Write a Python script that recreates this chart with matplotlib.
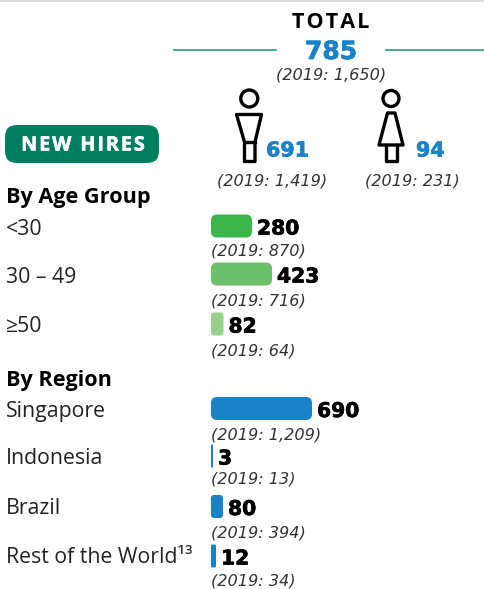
import matplotlib
matplotlib.use("Agg")
import matplotlib.pyplot as plt
import matplotlib.patheffects as pe
from matplotlib.patches import Circle, FancyBboxPatch, Polygon

plt.rcParams['font.family'] = ['Open Sans', 'DejaVu Sans']

# Datos
total = "785"
total_prev = "(2019: 1,650)"
male = "691"
male_prev = "(2019: 1,419)"
female = "94"
female_prev = "(2019: 231)"

age_labels = ["<30", "30 – 49", "≥50"]
age_values = [280, 423, 82]
age_prev = ["(2019: 870)", "(2019: 716)", "(2019: 64)"]
age_len = [41, 61, 12.5]  # largo dibujado en la imagen

region_labels = ["Singapore", "Indonesia", "Brazil", "Rest of the World¹³"]
region_values = [690, 3, 80, 12]
region_prev = ["(2019: 1,209)", "(2019: 13)", "(2019: 394)", "(2019: 34)"]
region_len = [101, 2, 12, 5]

# Posiciones en y: etiqueta, barra, texto 2019
age_y = [(228, 226, 250), (276, 274, 299), (325, 324, 349)]
region_y = [(410, 408.5, 433), (457, 456, 478), (507, 506.5, 532), (556, 556, 579)]

# Colores
GREEN = "#007f5f"
LINE = "#3aa586"
BLUE = "#1a82c6"
AGE_COLORS = ["#3cb54a", "#6cc06c", "#97d08c"]
TEXT = "#222222"
PREV = "#333333"

fig = plt.figure(figsize=(4.84, 5.89), dpi=100)
ax = fig.add_axes([0, 0, 1, 1])
ax.set_xlim(0, 484)
ax.set_ylim(589, 0)
ax.axis("off")


def heavy(w=0.8, color="black"):
    return [pe.withStroke(linewidth=w, foreground=color)]


def number(x, y, s, size, color, **kw):
    ax.text(x, y, s, fontsize=size, fontweight="bold", family="DejaVu Sans", color=color,
            va="baseline", path_effects=heavy(0.5, color), **kw)


def previous(x, y, s, ha):
    ax.text(x, y, s, fontsize=11.6, style="italic", family="DejaVu Sans", color=PREV, va="baseline", ha=ha)


def rounded_bar(x, yc, w, h, color, r=6):
    r = min(r, w / 4 if w < 20 else r)
    ax.add_patch(FancyBboxPatch((x, yc - h / 2), w, h, boxstyle=f"round,pad=0,rounding_size={r}",
                                fc=color, ec="none"))


def row(ys, label, value, prev, length, color):
    yl, yb, yp = ys
    ax.text(6, yl + 7, label, fontsize=15.3, color=TEXT, va="baseline", ha="left")
    rounded_bar(211, yb, length, 23, color)
    number(211 + length + 5, yb + 8.5, str(value), 14.6, "black", ha="left")
    previous(211, yp + 6, prev, "left")


# Encabezado
ax.plot([0, 484], [0.5, 0.5], color="#dddddd", lw=1.5)
ax.text(331, 27.5, "T\u200aO\u200aT\u200aA\u200aL", fontsize=15.5, fontweight="bold", color="black",
        ha="center", va="baseline")
ax.plot([174, 276], [50, 50], color=LINE, lw=1.3)
ax.plot([386, 484], [50, 50], color=LINE, lw=1.3)
number(331, 59, total, 18, BLUE, ha="center")
previous(331, 80, total_prev, "center")

# Iconos
lw = 2.4
ax.add_patch(Circle((249.3, 98.5), 8.5, fc="none", ec="black", lw=lw))
ax.add_patch(Polygon([(236.5, 114.5), (261.5, 114.5), (255, 142), (255, 161.5), (244.5, 161.5), (244.5, 142)],
                     closed=True, fc="none", ec="black", lw=lw, joinstyle="round"))
ax.plot([244.5, 255], [142, 142], color="black", lw=lw)
ax.add_patch(Circle((391, 98.5), 8, fc="none", ec="black", lw=lw))
ax.add_patch(Polygon([(387.5, 113), (395, 113), (403, 145), (379, 145)],
                     closed=True, fc="none", ec="black", lw=lw, joinstyle="round"))
ax.plot([386, 386, 397, 397], [145, 161, 161, 145], color="black", lw=lw)

number(266, 156.5, male, 14.8, BLUE, ha="left")
number(416, 156.5, female, 14.8, BLUE, ha="left")
previous(272, 186, male_prev, "center")
previous(412, 186, female_prev, "center")

# Etiqueta NEW HIRES
rounded_bar(5, 144, 154, 38, GREEN, r=12)
ax.text(83, 150.5, "N\u200aE\u200aW\u2009 H\u200aI\u200aR\u200aE\u200aS", fontsize=14.2, fontweight="bold", color="white",
        ha="center", va="baseline", path_effects=heavy(0.4, "white"))

# Por edad
ax.text(6, 203, "By Age Group", fontsize=15.6, fontweight="bold", color="black", va="baseline")
for ys, lab, val, prev, ln, col in zip(age_y, age_labels, age_values, age_prev, age_len, AGE_COLORS):
    row(ys, lab, val, prev, ln, col)

# Por region
ax.text(6, 386, "By Region", fontsize=15.6, fontweight="bold", color="black", va="baseline")
for ys, lab, val, prev, ln in zip(region_y, region_labels, region_values, region_prev, region_len):
    row(ys, lab, val, prev, ln, BLUE)

fig.savefig("out.png", dpi=100)
